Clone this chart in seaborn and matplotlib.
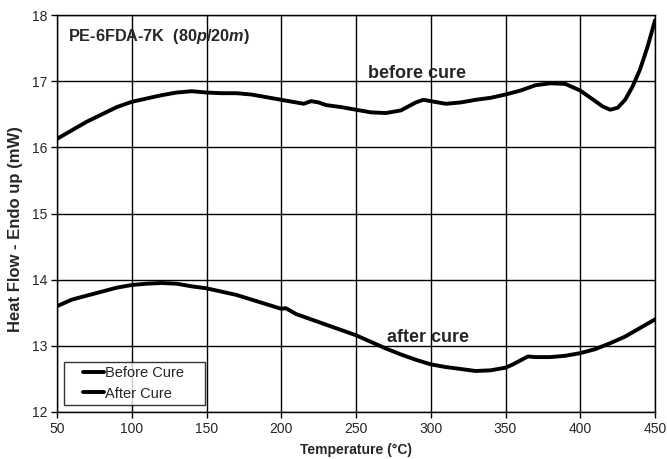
import matplotlib
matplotlib.use("Agg")
import matplotlib.pyplot as plt
from matplotlib.legend_handler import HandlerLine2D
from matplotlib.lines import Line2D
import seaborn as sns
import pandas as pd

# DSC traces of PE-6FDA-7K, heat flow versus temperature
temp_before = [50, 60, 70, 80, 90, 100, 110, 120, 130, 140, 150, 160, 170, 180, 190,
               200, 210, 215, 220, 225, 230, 240, 250, 260, 270, 280, 290, 295, 300,
               310, 320, 330, 340, 350, 360, 370, 380, 390, 400, 410, 415, 420, 425,
               430, 435, 440, 445, 450]
heat_before = [16.13, 16.26, 16.39, 16.50, 16.61, 16.69, 16.74, 16.79, 16.83, 16.85,
               16.83, 16.82, 16.82, 16.80, 16.76, 16.72, 16.68, 16.66, 16.70, 16.68,
               16.64, 16.61, 16.57, 16.53, 16.52, 16.56, 16.68, 16.72, 16.70, 16.66,
               16.68, 16.72, 16.75, 16.80, 16.86, 16.94, 16.97, 16.96, 16.86, 16.70,
               16.62, 16.57, 16.60, 16.72, 16.92, 17.18, 17.52, 17.92]

temp_after = [50, 60, 70, 80, 90, 100, 110, 120, 130, 140, 150, 160, 170, 180, 190,
              200, 203, 210, 220, 230, 240, 250, 260, 270, 280, 290, 300, 310, 320,
              330, 340, 350, 355, 360, 365, 370, 380, 390, 400, 410, 420, 430, 440, 450]
heat_after = [13.60, 13.70, 13.76, 13.82, 13.88, 13.92, 13.94, 13.95, 13.94, 13.90,
              13.87, 13.82, 13.77, 13.70, 13.63, 13.56, 13.57, 13.48, 13.40, 13.32,
              13.24, 13.16, 13.06, 12.96, 12.87, 12.79, 12.72, 12.68, 12.65, 12.62,
              12.63, 12.67, 12.72, 12.78, 12.84, 12.83, 12.83, 12.85, 12.89, 12.95,
              13.04, 13.14, 13.27, 13.40]

x_ticks = [50, 100, 150, 200, 250, 300, 350, 400, 450]
y_ticks = [12, 13, 14, 15, 16, 17, 18]

sns.set_theme(style="white")
plt.rcParams["font.family"] = ["Liberation Sans", "DejaVu Sans"]
plt.rcParams["mathtext.fontset"] = "custom"
plt.rcParams["mathtext.rm"] = "Liberation Sans"
plt.rcParams["mathtext.bf"] = "Liberation Sans:bold"
plt.rcParams["mathtext.it"] = "Liberation Sans:italic"
plt.rcParams["mathtext.bfit"] = "Liberation Sans:bold:italic"


class RightAlignedLine(HandlerLine2D):
    """Short legend line drawn at the right end of the handle box."""

    def __init__(self, seg_frac=1.45, **kw):
        super().__init__(**kw)
        self.seg_frac = seg_frac

    def create_artists(self, legend, orig_handle, xdescent, ydescent,
                       width, height, fontsize, trans):
        seg = self.seg_frac * fontsize
        x1 = -xdescent + width
        y = (height - ydescent) / 2
        line = Line2D([x1 - seg, x1], [y, y])
        self.update_prop(line, orig_handle, legend)
        line.set_transform(trans)
        return [line]


df = pd.concat([
    pd.DataFrame({"Temperature": temp_before, "Heat": heat_before, "Sample": "Before Cure"}),
    pd.DataFrame({"Temperature": temp_after, "Heat": heat_after, "Sample": "After Cure"}),
])

fig = plt.figure(figsize=(6.67, 4.59), dpi=100)
ax = fig.add_axes([0.0855, 0.1024, 0.8965, 0.8646])

sns.lineplot(data=df, x="Temperature", y="Heat", hue="Sample",
             palette={"Before Cure": "black", "After Cure": "black"},
             linewidth=2.8, ax=ax, sort=False)

ax.set_xlim(50, 450)
ax.set_ylim(12, 18)
ax.set_xticks(x_ticks)
ax.set_yticks(y_ticks)
ax.set_xticklabels([str(t) for t in x_ticks], fontsize=10)
ax.set_yticklabels([str(t) for t in y_ticks], fontsize=10)
ax.grid(True, color="black", linewidth=1.0)
for s in ax.spines.values():
    s.set_color("black")
    s.set_linewidth(1.0)
ax.tick_params(axis="both", direction="out", length=4, width=1, color="black",
               left=True, bottom=True, pad=3)

ax.set_xlabel("Temperature (\u00b0C)", fontsize=10, fontweight="bold", labelpad=5)
ax.set_ylabel("Heat Flow - Endo up (mW)", fontsize=12, fontweight="bold")
ax.yaxis.set_label_coords(-0.057, 0.46)

ax.text(57.5, 17.67, r"PE-6FDA-7K  (80$\mathbfit{p}$/20$\mathbfit{m}$)", fontsize=11.7,
        fontweight="bold", va="center", ha="left")
ax.text(258, 17.12, "before cure", fontsize=13, fontweight="bold", ha="left", va="center")
ax.text(270.5, 13.12, "after cure", fontsize=13, fontweight="bold", ha="left", va="center")

handles, labels = ax.get_legend_handles_labels()
leg = ax.legend(handles, [lab + "    " for lab in labels],
                loc="lower left", bbox_to_anchor=(0.0117, 0.0177), borderaxespad=0,
                fontsize=10.5, frameon=True, fancybox=False,
                handlelength=2.44, handletextpad=0.05, borderpad=0.3,
                labelspacing=0.45,
                handler_map={h: RightAlignedLine() for h in handles})
leg.get_frame().set_edgecolor("black")
leg.get_frame().set_linewidth(1.0)

fig.savefig("out.png", dpi=100)
